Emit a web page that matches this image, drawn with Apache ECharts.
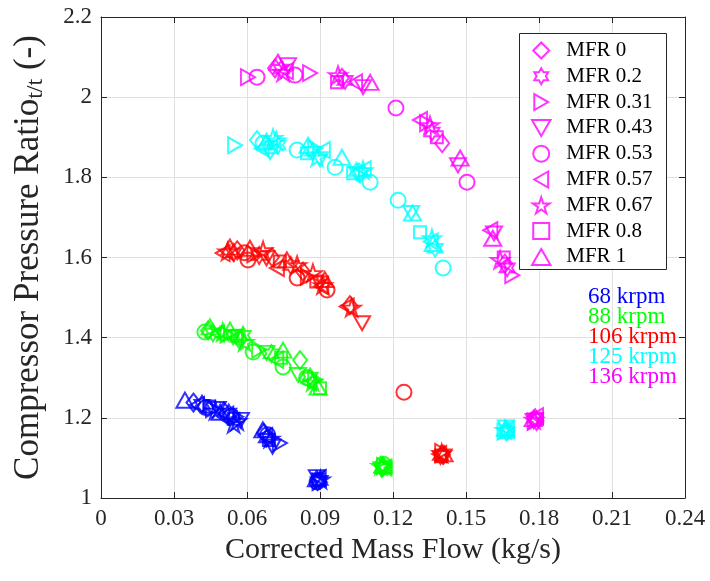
<!DOCTYPE html>
<html>
<head>
<meta charset="utf-8">
<script src="https://cdn.jsdelivr.net/npm/echarts@6/dist/echarts.min.js"></script>
<style>
  html, body { margin: 0; padding: 0; background: #fff; }
  #chart { width: 710px; height: 581px; }
</style>
</head>
<body>
<div id="chart"></div>
<script>
// Mass flow ratio levels (one marker shape per level)
const mfrNames = ['MFR 0', 'MFR 0.2', 'MFR 0.31', 'MFR 0.43', 'MFR 0.53', 'MFR 0.57', 'MFR 0.67', 'MFR 0.8', 'MFR 1'];

// Speed lines (one colour per speed)
const speedNames = ['68 krpm', '88 krpm', '106 krpm', '125 krpm', '136 krpm'];
const speedColors = ['#0000ff', '#00ff00', '#ff0000', '#00ffff', '#ff00ff'];

// Axis tick labels
const xTickLabels = ['0', '0.03', '0.06', '0.09', '0.12', '0.15', '0.18', '0.21', '0.24'];
const yTickLabels = ['1', '1.2', '1.4', '1.6', '1.8', '2', '2.2'];

// Measured points: [corrected mass flow (kg/s), pressure ratio t/t, MFR index]
const rpm68 = [
  [0.0345, 1.244, 8], [0.0380, 1.238, 0], [0.0395, 1.232, 5], [0.0415, 1.234, 1], [0.0430, 1.226, 4],
  [0.0445, 1.228, 7], [0.0460, 1.222, 2], [0.0470, 1.218, 6], [0.0480, 1.222, 3],
  [0.0490, 1.214, 8], [0.0505, 1.216, 0], [0.0515, 1.208, 5], [0.0525, 1.212, 1], [0.0535, 1.204, 4],
  [0.0545, 1.198, 7], [0.0555, 1.203, 2], [0.0560, 1.192, 6], [0.0575, 1.195, 3], [0.0545, 1.185, 6],
  [0.0665, 1.170, 8], [0.0670, 1.162, 0], [0.0675, 1.155, 5], [0.0680, 1.150, 1], [0.0685, 1.158, 4],
  [0.0690, 1.145, 7], [0.0735, 1.137, 2], [0.0705, 1.128, 3], [0.0695, 1.148, 6],
  [0.0885, 1.048, 8], [0.0890, 1.042, 0], [0.0895, 1.050, 5], [0.0900, 1.044, 1], [0.0888, 1.040, 4],
  [0.0893, 1.046, 7], [0.0898, 1.040, 2], [0.0887, 1.052, 3], [0.0902, 1.046, 6]
];
const rpm88 = [
  [0.0448, 1.427, 8], [0.0427, 1.414, 4], [0.0440, 1.418, 0], [0.0460, 1.412, 1], [0.0477, 1.411, 5],
  [0.0500, 1.414, 6], [0.0530, 1.419, 8], [0.0520, 1.408, 2], [0.0543, 1.401, 3], [0.0560, 1.405, 7],
  [0.0584, 1.406, 1], [0.0590, 1.389, 6], [0.0570, 1.395, 0], [0.0550, 1.398, 5],
  [0.0625, 1.364, 4], [0.0680, 1.362, 3], [0.0650, 1.370, 2], [0.0748, 1.369, 8], [0.0700, 1.360, 1],
  [0.0748, 1.327, 4], [0.0720, 1.345, 5], [0.0740, 1.350, 7],
  [0.0818, 1.344, 0], [0.0810, 1.307, 3], [0.0859, 1.302, 1], [0.0870, 1.290, 6], [0.0880, 1.295, 2],
  [0.0892, 1.277, 8], [0.0900, 1.274, 7], [0.0855, 1.288, 5], [0.0845, 1.300, 4],
  [0.1150, 1.080, 6], [0.1155, 1.074, 1], [0.1160, 1.078, 0], [0.1165, 1.076, 5], [0.1158, 1.082, 8],
  [0.1152, 1.072, 3], [0.1163, 1.080, 2], [0.1170, 1.077, 7], [0.1160, 1.084, 4]
];
const rpm106 = [
  [0.0500, 1.611, 5], [0.0530, 1.626, 8], [0.0520, 1.615, 6], [0.0545, 1.612, 1], [0.0560, 1.618, 0],
  [0.0590, 1.612, 4], [0.0612, 1.623, 8], [0.0604, 1.594, 4], [0.0630, 1.608, 2], [0.0666, 1.618, 6],
  [0.0650, 1.605, 1], [0.0680, 1.598, 3], [0.0703, 1.601, 0], [0.0723, 1.574, 5], [0.0735, 1.590, 7],
  [0.0764, 1.594, 8], [0.0780, 1.580, 1], [0.0806, 1.581, 6], [0.0806, 1.549, 4], [0.0830, 1.565, 0],
  [0.0850, 1.552, 2], [0.0871, 1.561, 6], [0.0885, 1.540, 7], [0.0912, 1.531, 6], [0.0929, 1.519, 4],
  [0.0900, 1.535, 3], [0.0920, 1.545, 8], [0.0905, 1.528, 5],
  [0.1023, 1.481, 0], [0.1030, 1.475, 6], [0.1010, 1.478, 5], [0.1073, 1.436, 3],
  [0.1245, 1.264, 4],
  [0.1400, 1.112, 6], [0.1395, 1.106, 1], [0.1405, 1.108, 0], [0.1410, 1.110, 8], [0.1390, 1.110, 5],
  [0.1402, 1.115, 2], [0.1398, 1.104, 7], [0.1408, 1.104, 3]
];
const rpm125 = [
  [0.0551, 1.880, 2], [0.0641, 1.893, 0], [0.0666, 1.885, 4], [0.0707, 1.898, 6], [0.0727, 1.880, 1],
  [0.0695, 1.863, 3], [0.0680, 1.890, 8], [0.0660, 1.872, 5], [0.0700, 1.875, 7], [0.0720, 1.892, 6],
  [0.0806, 1.868, 4], [0.0851, 1.880, 8], [0.0847, 1.860, 7], [0.0888, 1.850, 6], [0.0912, 1.868, 5],
  [0.0870, 1.865, 1], [0.0880, 1.872, 2], [0.0900, 1.845, 3],
  [0.0962, 1.825, 4], [0.0990, 1.850, 8], [0.1036, 1.810, 7], [0.1077, 1.818, 6], [0.1060, 1.812, 0],
  [0.1050, 1.815, 1], [0.1065, 1.805, 3], [0.1106, 1.788, 4], [0.1080, 1.820, 5],
  [0.1221, 1.743, 4], [0.1275, 1.711, 3], [0.1280, 1.711, 8], [0.1311, 1.663, 7], [0.1360, 1.648, 6],
  [0.1373, 1.623, 1], [0.1365, 1.635, 8], [0.1355, 1.640, 5], [0.1406, 1.574, 4],
  [0.1660, 1.170, 6], [0.1665, 1.165, 1], [0.1670, 1.168, 0], [0.1662, 1.174, 8], [0.1668, 1.172, 5],
  [0.1658, 1.166, 2], [0.1672, 1.164, 7], [0.1664, 1.176, 3]
];
const rpm136 = [
  [0.0604, 2.050, 2], [0.0641, 2.050, 4], [0.0715, 2.072, 0], [0.0727, 2.087, 8], [0.0748, 2.062, 6],
  [0.0769, 2.080, 3], [0.0740, 2.070, 1], [0.0760, 2.065, 5], [0.0797, 2.055, 4], [0.0859, 2.060, 2],
  [0.0974, 2.055, 6], [0.0970, 2.037, 7], [0.1003, 2.042, 1], [0.0990, 2.048, 0], [0.1044, 2.037, 5],
  [0.1077, 2.025, 3], [0.1106, 2.037, 8],
  [0.1212, 1.973, 4], [0.1311, 1.943, 5], [0.1352, 1.930, 6], [0.1360, 1.913, 1], [0.1340, 1.935, 2],
  [0.1402, 1.885, 0], [0.1380, 1.900, 7], [0.1476, 1.848, 8], [0.1467, 1.830, 3], [0.1504, 1.788, 4],
  [0.1600, 1.668, 5], [0.1610, 1.648, 8], [0.1615, 1.660, 3], [0.1640, 1.594, 6], [0.1669, 1.574, 1],
  [0.1690, 1.556, 2], [0.1660, 1.585, 0], [0.1655, 1.600, 7],
  [0.1780, 1.195, 6], [0.1785, 1.200, 1], [0.1790, 1.192, 0], [0.1776, 1.198, 8], [0.1788, 1.204, 5],
  [0.1782, 1.190, 2], [0.1792, 1.198, 7], [0.1778, 1.192, 3]
];
const speedData = [rpm68, rpm88, rpm106, rpm125, rpm136];

// Outline marker shapes, one per MFR level
const markerShapes = [
  { symbol: 'path://M50,0L100,50L50,100L0,50Z', size: [14, 18] },                       // diamond
  { symbol: 'path://M50,0L64.43,25L93.3,25L78.87,50L93.3,75L64.43,75L50,100L35.57,75L6.7,75L21.13,50L6.7,25L35.57,25Z', size: [15, 17] }, // hexagram
  { symbol: 'path://M0,0L86.6,50L0,100Z', size: [14, 16] },                             // right triangle
  { symbol: 'path://M0,0L100,0L50,86.6Z', size: [16, 14] },                             // down triangle
  { symbol: 'circle', size: 15 },                                                       // circle
  { symbol: 'path://M86.6,0L0,50L86.6,100Z', size: [14, 16] },                          // left triangle
  { symbol: 'path://M50,0L61.23,34.55L97.55,34.55L68.16,55.9L79.39,90.45L50,69.1L20.61,90.45L31.84,55.9L2.45,34.55L38.77,34.55Z', size: [18, 17] }, // pentagram
  { symbol: 'path://M0,0L100,0L100,100L0,100Z', size: [12, 12] },                       // square
  { symbol: 'path://M50,0L100,86.6L0,86.6Z', size: [17, 15] }                           // up triangle
];

const FONT = '"Liberation Serif", "DejaVu Serif", serif';
const AXIS_COLOR = '#262626';

const series = [];
// Legend entries (drawn in the 136 krpm colour)
mfrNames.forEach((name, m) => {
  series.push({
    name: name,
    type: 'scatter',
    data: [],
    symbol: markerShapes[m].symbol,
    symbolSize: markerShapes[m].size,
    itemStyle: { color: 'rgba(0,0,0,0)', borderColor: speedColors[4], borderWidth: 2 }
  });
});
// One scatter series per speed and MFR level
speedData.forEach((rows, s) => {
  mfrNames.forEach((name, m) => {
    series.push({
      name: speedNames[s] + ' / ' + name,
      type: 'scatter',
      data: rows.filter(r => r[2] === m).map(r => [r[0], r[1]]),
      symbol: markerShapes[m].symbol,
      symbolSize: markerShapes[m].size,
      itemStyle: { color: 'rgba(0,0,0,0)', borderColor: speedColors[s], borderWidth: 2 },
      emphasis: { disabled: true }
    });
  });
});

const frameAxis = {
  type: 'value',
  axisLine: { show: true, onZero: false, lineStyle: { color: AXIS_COLOR, width: 1 } },
  axisTick: { show: true, inside: true, length: 6, lineStyle: { color: AXIS_COLOR } },
  axisLabel: { show: false },
  splitLine: { show: false }
};

const chart = echarts.init(document.getElementById('chart'), null, { renderer: 'canvas' });
chart.setOption({
  animation: false,
  backgroundColor: '#fff',
  grid: { left: 101, right: 25, top: 17, bottom: 83, containLabel: false },
  xAxis: [
    {
      type: 'value', min: 0, max: 0.24, interval: 0.03, position: 'bottom',
      axisLine: { show: true, onZero: false, lineStyle: { color: AXIS_COLOR, width: 1 } },
      axisTick: { show: true, inside: true, length: 6, lineStyle: { color: AXIS_COLOR } },
      axisLabel: {
        color: AXIS_COLOR, fontFamily: FONT, fontSize: 23, margin: 9,
        formatter: v => xTickLabels[Math.round(v / 0.03)]
      },
      splitLine: { show: true, lineStyle: { color: '#e0e0e0', width: 1 } },
      name: 'Corrected Mass Flow (kg/s)',
      nameLocation: 'middle', nameGap: 36,
      nameTextStyle: { color: AXIS_COLOR, fontFamily: FONT, fontSize: 30 }
    },
    Object.assign({}, frameAxis, { min: 0, max: 0.24, interval: 0.03, position: 'top' })
  ],
  yAxis: [
    {
      type: 'value', min: 1, max: 2.2, interval: 0.2, position: 'left',
      axisLine: { show: true, onZero: false, lineStyle: { color: AXIS_COLOR, width: 1 } },
      axisTick: { show: true, inside: true, length: 6, lineStyle: { color: AXIS_COLOR } },
      axisLabel: {
        color: AXIS_COLOR, fontFamily: FONT, fontSize: 23, margin: 9,
        formatter: v => yTickLabels[Math.round((v - 1) / 0.2)]
      },
      splitLine: { show: true, lineStyle: { color: '#e0e0e0', width: 1 } },
      name: 'Compressor Pressure Ratio{sub|t/t} (-)',
      nameLocation: 'middle', nameGap: 53, nameRotate: 90,
      nameTextStyle: {
        color: AXIS_COLOR, fontFamily: FONT, fontSize: 35,
        rich: {
          sub: { fontFamily: FONT, fontSize: 24, color: AXIS_COLOR, padding: [14, 0, 0, 0] }
        }
      }
    },
    Object.assign({}, frameAxis, { min: 1, max: 2.2, interval: 0.2, position: 'right' })
  ],
  legend: {
    data: mfrNames,
    orient: 'vertical',
    left: 531, top: 40,
    itemWidth: 28, itemHeight: 16, itemGap: 4.8,
    padding: 0,
    selectedMode: false,
    itemStyle: { color: 'rgba(0,0,0,0)', borderColor: speedColors[4], borderWidth: 2 },
    textStyle: { color: '#000', fontFamily: FONT, fontSize: 21, padding: [0, 0, 0, 6] },
    z: 6
  },
  graphic: [
    {
      type: 'rect', z: 5,
      shape: { x: 519.5, y: 33.5, width: 147, height: 236 },
      style: { fill: '#fff', stroke: AXIS_COLOR, lineWidth: 1 }
    }
  ].concat(speedNames.map((t, s) => ({
    type: 'text', z: 5,
    x: 588, y: 297 + s * 20,
    style: { text: t, fill: speedColors[s], font: '23px ' + FONT, verticalAlign: 'middle' }
  }))),
  series: series
});
</script>
</body>
</html>
